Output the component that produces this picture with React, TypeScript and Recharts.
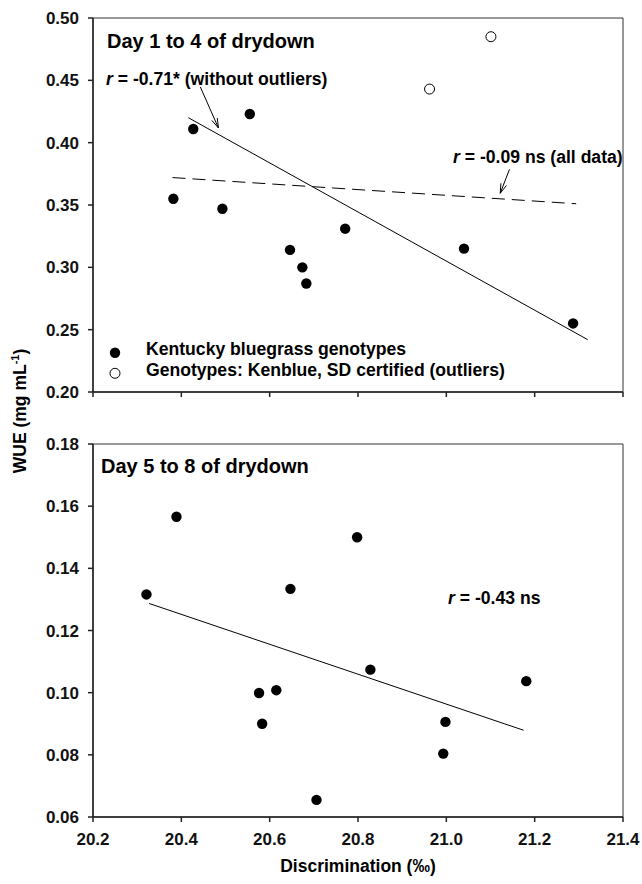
import React from 'react'
import {
  ScatterChart, Scatter, XAxis, YAxis, ReferenceLine, ReferenceArea,
} from 'recharts'

// ── Data ─────────────────────────────────────────────────────────────────────

const X_TICKS = [20.2, 20.4, 20.6, 20.8, 21.0, 21.2, 21.4]
const Y_TICKS_TOP = [0.2, 0.25, 0.3, 0.35, 0.4, 0.45, 0.5]
const Y_TICKS_BOT = [0.06, 0.08, 0.1, 0.12, 0.14, 0.16, 0.18]

// Day 1 to 4, Kentucky bluegrass genotypes
const early_x = [20.382, 20.427, 20.555, 20.493, 20.646, 20.674, 20.683, 20.771, 21.04, 21.287]
const early_y = [0.355, 0.411, 0.423, 0.347, 0.314, 0.3, 0.287, 0.331, 0.315, 0.255]
// Day 1 to 4, outliers (Kenblue, SD certified)
const outlier_x = [21.101, 20.962]
const outlier_y = [0.485, 0.443]
// Day 5 to 8
const late_x = [20.321, 20.389, 20.647, 20.798, 20.828, 21.181, 20.576, 20.615, 20.583, 20.706, 20.998, 20.993]
const late_y = [0.1316, 0.1566, 0.1334, 0.15, 0.1074, 0.1037, 0.0999, 0.1008, 0.09, 0.0655, 0.0906, 0.0804]

// regression lines [x1, y1, x2, y2]
const fitNoOutliers = [20.416, 0.42, 21.32, 0.242]
const fitAll = [20.38, 0.372, 21.294, 0.351]
const fitLate = [20.327, 0.1287, 21.175, 0.0879]
// annotation arrows [x1, y1, x2, y2]
const arrowNoOutliers = [20.443, 0.4447, 20.484, 0.4118]
const arrowAll = [21.143, 0.3786, 21.122, 0.3594]

const pts = (xs: number[], ys: number[]) => xs.map((x, i) => ({ x, y: ys[i] }))
const seg = (s: number[]) => [{ x: s[0], y: s[1] }, { x: s[2], y: s[3] }]

// ── Styles ───────────────────────────────────────────────────────────────────

const FONT = '"Liberation Sans", Arial, sans-serif'
const TICK = { fontSize: 17, fontWeight: 700, fill: '#111', fontFamily: FONT }
const AX = { stroke: '#222', strokeWidth: 1.5 }

const Dot = (p: any) => <circle cx={p.cx} cy={p.cy} r={5.2} fill="#000" />
const Ring = (p: any) => <circle cx={p.cx} cy={p.cy} r={5} fill="#fff" stroke="#000" strokeWidth={1} />

function Arrow(p: any) {
  const { x1, y1, x2, y2 } = p
  const a = Math.atan2(y2 - y1, x2 - x1)
  const L = 10, w = 0.3
  const h1 = [x2 - L * Math.cos(a - w), y2 - L * Math.sin(a - w)]
  const h2 = [x2 - L * Math.cos(a + w), y2 - L * Math.sin(a + w)]
  return (
    <g>
      <line x1={x1} y1={y1} x2={x2} y2={y2} stroke="#000" strokeWidth={1} />
      <polyline points={`${h1[0]},${h1[1]} ${x2},${y2} ${h2[0]},${h2[1]}`} fill="none" stroke="#000" strokeWidth={1} />
    </g>
  )
}

function Note({ left, top, size = 17.6, children }: { left: number; top: number; size?: number; children: React.ReactNode }) {
  return (
    <div style={{
      position: 'absolute', left, top, transform: 'translateY(-50%)',
      fontSize: size, fontWeight: 700, whiteSpace: 'nowrap', lineHeight: 1,
    }}>
      {children}
    </div>
  )
}

const R = <i>r</i>

// ── Chart ────────────────────────────────────────────────────────────────────

export default function App() {
  return (
    <div style={{ position: 'absolute', left: 0, top: 0, width: 642, height: 884, background: '#fff', fontFamily: FONT, color: '#000' }}>
      {/* top panel */}
      <div style={{ position: 'absolute', left: 0, top: 0 }}>
        <ScatterChart width={642} height={412} margin={{ top: 18, right: 19, bottom: 0, left: 0 }}>
          <XAxis dataKey="x" type="number" domain={[20.2, 21.4]} ticks={X_TICKS} height={20} interval={0}
            tickSize={5} tickFormatter={() => ''} axisLine={AX} tickLine={AX} allowDataOverflow />
          <YAxis dataKey="y" type="number" domain={[0.2, 0.5]} ticks={Y_TICKS_TOP} width={93} interval={0}
            tickSize={5} tickMargin={9} tick={TICK} tickFormatter={v => v.toFixed(2)}
            axisLine={AX} tickLine={AX} allowDataOverflow />
          <ReferenceArea x1={20.2} x2={21.4} y1={0.2} y2={0.5} fill="none" stroke="#333" strokeWidth={1} />
          <ReferenceLine segment={seg(fitNoOutliers)} stroke="#000" strokeWidth={1} />
          <ReferenceLine segment={seg(fitAll)} stroke="#000" strokeWidth={1} strokeDasharray="13 7" />
          <ReferenceLine segment={seg(arrowNoOutliers)} shape={Arrow} />
          <ReferenceLine segment={seg(arrowAll)} shape={Arrow} />
          <Scatter data={pts(early_x, early_y)} shape={Dot} isAnimationActive={false} />
          <Scatter data={pts(outlier_x, outlier_y)} shape={Ring} isAnimationActive={false} />
        </ScatterChart>
      </div>

      {/* bottom panel */}
      <div style={{ position: 'absolute', left: 0, top: 426 }}>
        <ScatterChart width={642} height={458} margin={{ top: 18, right: 19, bottom: 0, left: 0 }}>
          <XAxis dataKey="x" type="number" domain={[20.2, 21.4]} ticks={X_TICKS} height={67} interval={0}
            tickSize={5} tickMargin={11} tick={TICK} tickFormatter={v => v.toFixed(1)}
            axisLine={AX} tickLine={AX} allowDataOverflow
            label={{ value: 'Discrimination (‰)', position: 'insideBottom', offset: 12, fontSize: 17.5, fontWeight: 700, fill: '#000', fontFamily: FONT }} />
          <YAxis dataKey="y" type="number" domain={[0.06, 0.18]} ticks={Y_TICKS_BOT} width={93} interval={0}
            tickSize={5} tickMargin={9} tick={TICK} tickFormatter={v => v.toFixed(2)}
            axisLine={AX} tickLine={AX} allowDataOverflow />
          <ReferenceArea x1={20.2} x2={21.4} y1={0.06} y2={0.18} fill="none" stroke="#333" strokeWidth={1} />
          <ReferenceLine segment={seg(fitLate)} stroke="#000" strokeWidth={1} />
          <Scatter data={pts(late_x, late_y)} shape={Dot} isAnimationActive={false} />
        </ScatterChart>
      </div>

      {/* annotations */}
      <Note left={107} top={41} size={20}>Day 1 to 4 of drydown</Note>
      <Note left={106} top={80}>{R} = -0.71* (without outliers)</Note>
      <Note left={453} top={158}>{R} = -0.09 ns (all data)</Note>
      <Note left={101} top={466} size={20}>Day 5 to 8 of drydown</Note>
      <Note left={448} top={599}>{R} = -0.43 ns</Note>

      {/* legend */}
      <svg style={{ position: 'absolute', left: 108, top: 344 }} width={16} height={38}>
        <circle cx={7} cy={8.7} r={5.2} fill="#000" />
        <circle cx={7} cy={29.3} r={5} fill="#fff" stroke="#000" strokeWidth={1} />
      </svg>
      <Note left={146} top={350}>Kentucky bluegrass genotypes</Note>
      <Note left={146} top={371}>Genotypes: Kenblue, SD certified (outliers)</Note>

      {/* y axis title */}
      <div style={{
        position: 'absolute', left: 20, top: 411, transform: 'translate(-50%, -50%) rotate(-90deg)',
        fontSize: 17.5, fontWeight: 700, whiteSpace: 'nowrap', lineHeight: 1,
      }}>
        WUE (mg mL<sup style={{ fontSize: 11 }}>-1</sup>)
      </div>
    </div>
  )
}
